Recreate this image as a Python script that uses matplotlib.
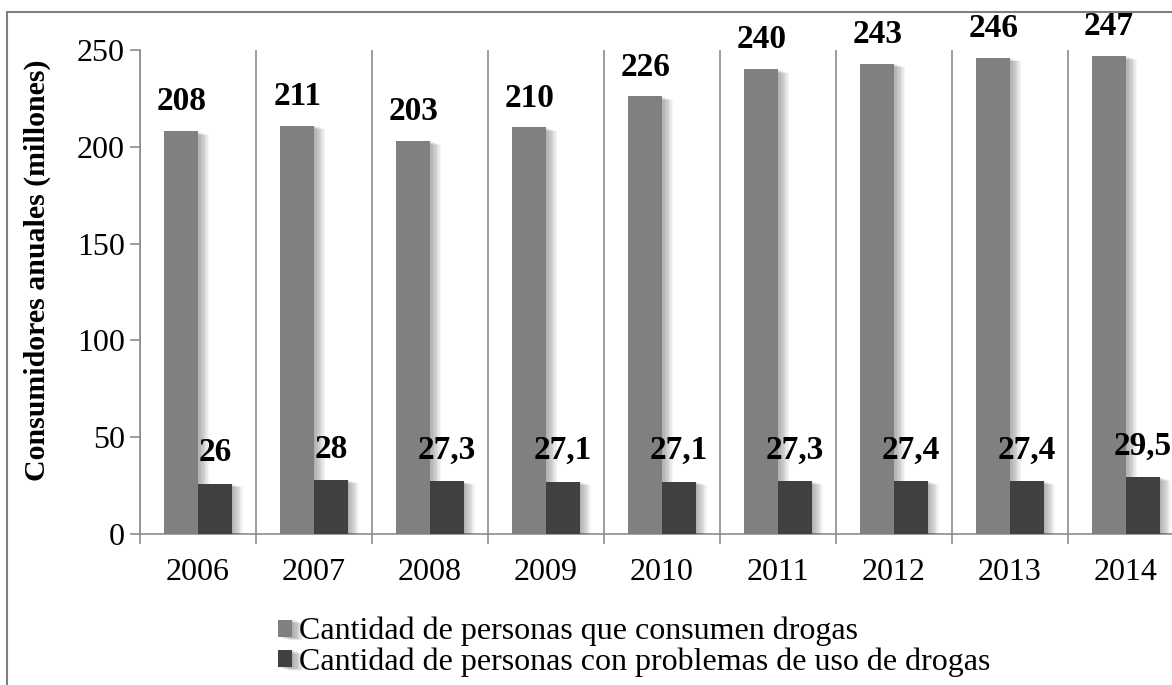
import matplotlib.pyplot as plt
import matplotlib.patheffects as pe
from matplotlib.patches import Rectangle
import numpy as np

plt.rcParams['font.family'] = ['Liberation Serif', 'DejaVu Serif']

years = ['2006', '2007', '2008', '2009', '2010', '2011', '2012', '2013', '2014']
consumidores = [208, 211, 203, 210, 226, 240, 243, 246, 247]
problemas = [26, 28, 27.3, 27.1, 27.1, 27.3, 27.4, 27.4, 29.5]
etiquetas_problemas = ['26', '28', '27,3', '27,1', '27,1', '27,3', '27,4', '27,4', '29,5']

fig = plt.figure(figsize=(11.72, 6.85), dpi=100)
ax = fig.add_axes([140 / 1172, 1 - 534 / 685, 1044 / 1172, 484 / 685])

x = np.arange(len(years))
width = 0.29

# soft shadow to the right of the bars
shadow = [pe.SimplePatchShadow(offset=(d, -d / 3), shadow_rgbFace='black', alpha=0.045)
          for d in (1, 2, 3, 4, 5, 6, 7, 8)]
shadow.append(pe.Normal())

b1 = ax.bar(x - width / 2, consumidores, width, color='#808080',
            label='Cantidad de personas que consumen drogas', zorder=3)
b2 = ax.bar(x + width / 2, problemas, width, color='#404040',
            label='Cantidad de personas con problemas de uso de drogas', zorder=3)
for r in list(b1) + list(b2):
    r.set_path_effects(shadow)

for xi, v in zip(x, consumidores):
    ax.annotate(str(v), (xi - width / 2, v), xytext=(0, 10), textcoords='offset points',
                ha='center', va='bottom', fontsize=24, fontweight='bold')
for xi, v, lab in zip(x, problemas, etiquetas_problemas):
    ax.annotate(lab, (xi + width / 2, v), xytext=(0, 11), textcoords='offset points',
                ha='center', va='bottom', fontsize=24, fontweight='bold')

ax.set_xlim(-0.5, len(years) - 0.5)
ax.set_ylim(0, 250)
ax.set_yticks(range(0, 251, 50))
ax.set_xticks(x)
ax.set_xticklabels(years)
ax.set_xticks(np.arange(-0.5, len(years), 1), minor=True)
ax.tick_params(axis='x', which='major', length=0, labelsize=23, pad=17)
ax.tick_params(axis='x', which='minor', length=7, color='#8c8c8c', width=1.2)
ax.tick_params(axis='y', length=7, color='#8c8c8c', width=1.2, labelsize=23, pad=4)
ax.grid(axis='x', which='minor', color='#8c8c8c', linewidth=1.2, zorder=0)
ax.set_axisbelow(True)
for s in ('top', 'right'):
    ax.spines[s].set_visible(False)
for s in ('left', 'bottom'):
    ax.spines[s].set_color('#8c8c8c')
    ax.spines[s].set_linewidth(1.2)

ax.set_ylabel('Consumidores anuales (millones)', fontsize=21.5, fontweight='bold')
ax.yaxis.set_label_coords(-0.085, 0.545)

fig.legend(loc='upper left', bbox_to_anchor=(278 / 1172, 1 - 617 / 685), frameon=False,
           fontsize=23, handlelength=0.45, handleheight=0.45, handletextpad=0.2,
           labelspacing=0.03, borderpad=0, borderaxespad=0)

fig.patches.append(Rectangle((7 / 1172, -0.1), 1.2, 1.1 - 12 / 685, transform=fig.transFigure,
                             fill=False, edgecolor='#7f7f7f', linewidth=1.5))

fig.savefig('out.png', dpi=100)
